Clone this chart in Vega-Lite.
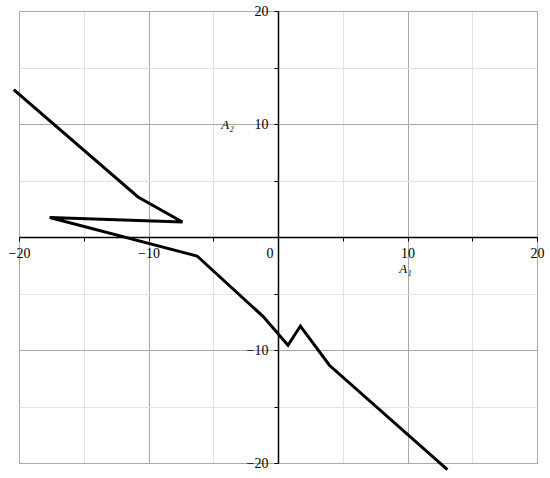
{
  "$schema": "https://vega.github.io/schema/vega-lite/v6.json",
  "autosize": "none",
  "width": 518,
  "height": 452,
  "padding": {"left": 19, "top": 11, "right": 13, "bottom": 15},
  "background": "white",
  "config": {"view": {"stroke": "#a6a6a6", "strokeWidth": 1}, "font": "Liberation Serif"},
  "data": {
    "values": [
      {"i": 0, "a1": -20.41, "a2": 13.04},
      {"i": 1, "a1": -10.81, "a2": 3.54},
      {"i": 2, "a1": -7.38, "a2": 1.33},
      {"i": 3, "a1": -17.63, "a2": 1.72},
      {"i": 4, "a1": -6.25, "a2": -1.68},
      {"i": 5, "a1": -1.16, "a2": -7.02},
      {"i": 6, "a1": 0.77, "a2": -9.58},
      {"i": 7, "a1": 1.73, "a2": -7.88},
      {"i": 8, "a1": 3.97, "a2": -11.35},
      {"i": 9, "a1": 13.08, "a2": -20.58}
    ]
  },
  "layer": [
    {
      "mark": {"type": "point", "opacity": 0},
      "encoding": {
        "x": {
          "field": "a1", "type": "quantitative",
          "scale": {"domain": [-20, 20], "nice": false, "zero": false},
          "axis": {
            "orient": "bottom", "values": [-20, -15, -10, -5, 0, 5, 10, 15, 20],
            "grid": true, "domain": false, "ticks": false, "labels": false, "title": null,
            "gridColor": {"condition": {"test": "datum.value % 10 === 0", "value": "#a9a9a9"}, "value": "#e3e3e3"},
            "gridWidth": 1, "zindex": 0
          }
        },
        "y": {
          "field": "a2", "type": "quantitative",
          "scale": {"domain": [-20, 20], "nice": false, "zero": false},
          "axis": {
            "orient": "left", "values": [-20, -15, -10, -5, 0, 5, 10, 15, 20],
            "grid": true, "domain": false, "ticks": false, "labels": false, "title": null,
            "gridColor": {"condition": {"test": "datum.value % 10 === 0", "value": "#a9a9a9"}, "value": "#e3e3e3"},
            "gridWidth": 1, "zindex": 0
          }
        }
      }
    },
    {
      "mark": {"type": "line", "color": "black", "strokeWidth": 3, "clip": false},
      "encoding": {
        "order": {"field": "i", "type": "quantitative"},
        "x": {
          "field": "a1", "type": "quantitative",
          "scale": {"domain": [-20, 20], "nice": false, "zero": false},
          "axis": {
            "orient": "bottom", "offset": -226, "values": [-20, -15, -10, -5, 0, 5, 10, 15, 20],
            "grid": false, "domainColor": "black", "domainWidth": 1.5,
            "tickColor": "black", "tickSize": 4, "tickWidth": 1,
            "labelExpr": "datum.value % 10 === 0 ? datum.label : ''",
            "labelFont": "Liberation Serif", "labelFontSize": 14, "labelColor": "black",
            "labelPadding": 5, "labelFlush": false, "labelOverlap": false,
            "labelAlign": {"condition": {"test": "datum.value === 0", "value": "right"}, "value": "center"},
            "labelOffset": {"condition": {"test": "datum.value === 0", "value": -5}, "value": 0},
            "title": "A₁", "titleFont": "Liberation Serif", "titleFontStyle": "italic",
            "titleFontSize": 13, "titleFontWeight": "normal", "titleColor": "black",
            "titleX": 386, "titleY": 31, "titleAlign": "center", "titleBaseline": "middle", "titleAngle": 0,
            "zindex": 1
          }
        },
        "y": {
          "field": "a2", "type": "quantitative",
          "scale": {"domain": [-20, 20], "nice": false, "zero": false},
          "axis": {
            "orient": "left", "offset": -259, "values": [-20, -15, -10, -5, 5, 10, 15, 20],
            "grid": false, "domainColor": "black", "domainWidth": 1.5,
            "tickColor": "black", "tickSize": 4, "tickWidth": 1,
            "labelExpr": "datum.value % 10 === 0 ? datum.label : ''",
            "labelFont": "Liberation Serif", "labelFontSize": 14, "labelColor": "black",
            "labelPadding": 6, "labelFlush": false, "labelOverlap": false, "labelBaseline": "middle",
            "title": "A₂", "titleFont": "Liberation Serif", "titleFontStyle": "italic",
            "titleFontSize": 13, "titleFontWeight": "normal", "titleColor": "black",
            "titleX": -51, "titleY": 113, "titleAlign": "center", "titleBaseline": "middle", "titleAngle": 0,
            "zindex": 1
          }
        }
      }
    }
  ],
  "resolve": {"axis": {"x": "independent", "y": "independent"}}
}
